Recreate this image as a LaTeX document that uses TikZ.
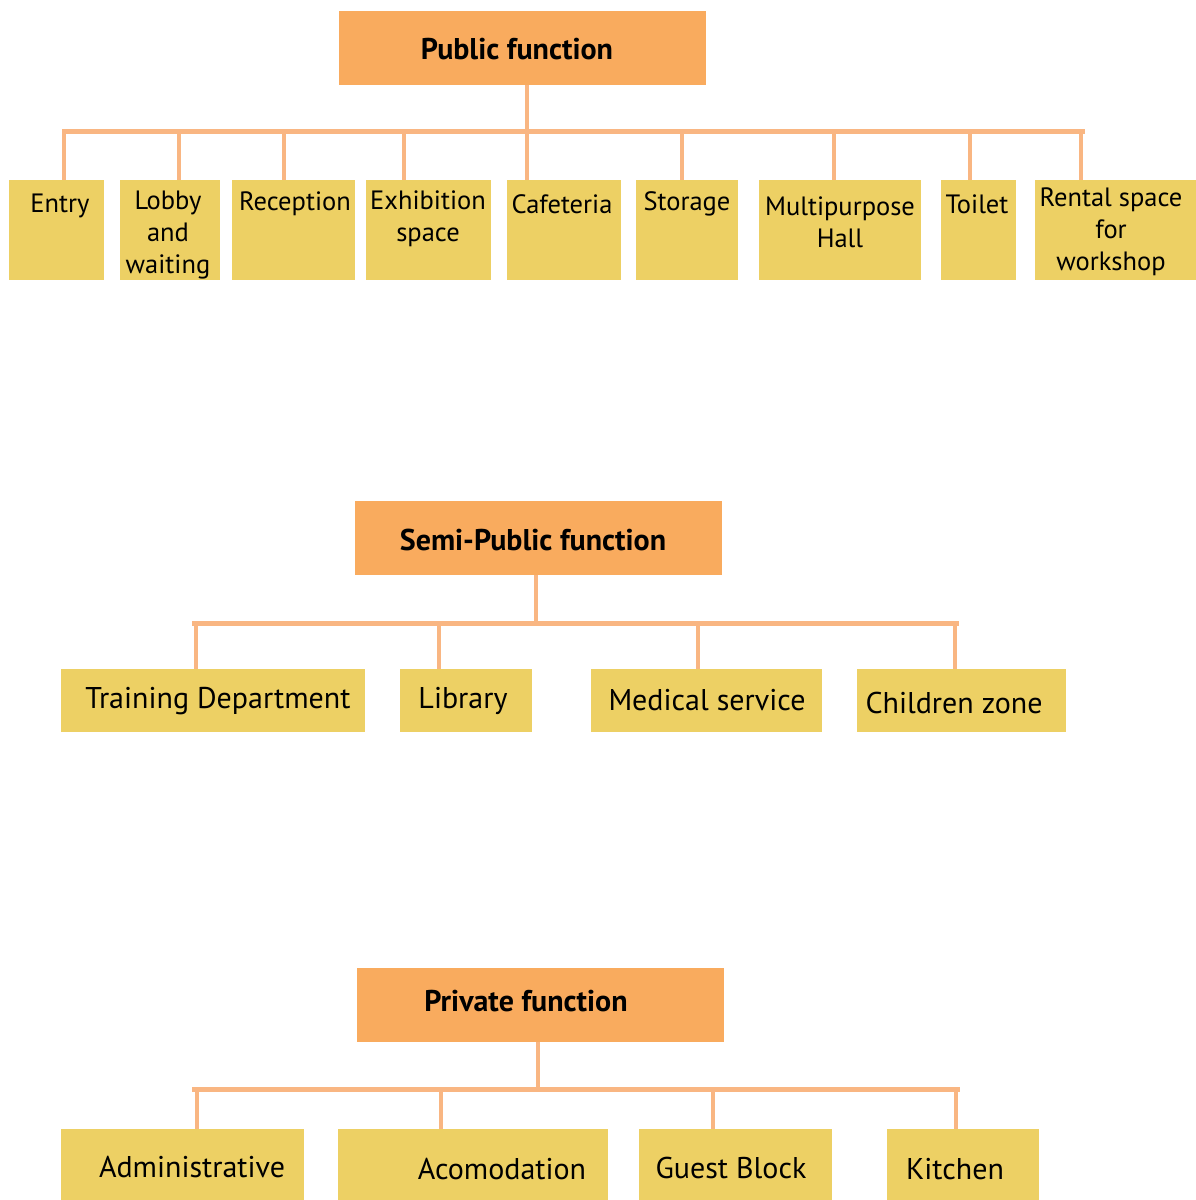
\documentclass[tikz,border=0pt]{standalone}
\usepackage{fontspec}
\setmainfont{PT Sans}
\definecolor{headfill}{RGB}{249,171,94}
\definecolor{leaffill}{RGB}{237,208,100}
\definecolor{linkcol}{RGB}{249,182,130}
\begin{document}
\begin{tikzpicture}[x=1pt,y=-1pt,
  head/.style={rectangle,fill=headfill,draw=none,minimum width=367,minimum height=74,inner sep=0},
  leaf/.style={rectangle,fill=leaffill,draw=none,inner sep=0},
  headtxt/.style={font=\fontsize{30}{34}\selectfont\bfseries,text=black,inner sep=0},
  smalltxt/.style={font=\fontsize{26.5}{32}\selectfont,align=center,text=black,inner sep=0},
  bigtxt/.style={font=\fontsize{30}{34}\selectfont,text=black,inner sep=0},
  bar/.style={draw=linkcol,line width=5},
  drop/.style={draw=linkcol,line width=4}]
\useasboundingbox (0,0) rectangle (1196,1200);
\fill[white] (0,0) rectangle (1196,1200);

% ---------- Public function ----------
\node[head] (pub) at (522.5,48) {};
\node[headtxt] (pubT) at (517,49) {Public function};

\node[leaf,minimum width=95,minimum height=100]  (entry) at (56.5,230) {};
\node[leaf,minimum width=100,minimum height=100] (lobby) at (170,230) {};
\node[leaf,minimum width=123,minimum height=100] (recep) at (293,230) {};
\node[leaf,minimum width=125,minimum height=100] (exhib) at (428.5,230) {};
\node[leaf,minimum width=114,minimum height=100] (cafe)  at (564,230) {};
\node[leaf,minimum width=102,minimum height=100] (stor)  at (687,230) {};
\node[leaf,minimum width=162,minimum height=100] (multi) at (840,230) {};
\node[leaf,minimum width=75,minimum height=100]  (toil)  at (978.5,230) {};
\node[leaf,minimum width=161,minimum height=100] (rent)  at (1115.5,230) {};

\node[smalltxt] at (60,206)   {Entry};
\node[smalltxt] at (168,235)  {Lobby\\and\\waiting};
\node[smalltxt] at (295,204)  {Reception};
\node[smalltxt] at (428,219)  {Exhibition\\space};
\node[smalltxt] at (562,204)  {Cafeteria};
\node[smalltxt] at (687,204)  {Storage};
\node[smalltxt] at (840,222)  {Multipurpose\\Hall};
\node[smalltxt] at (977,204)  {Toilet};
\node[smalltxt] at (1111,232) {Rental space\\for\\workshop};

\coordinate (pubL) at (62,131);
\coordinate (pubR) at (1085,131);
\coordinate (pubJ) at (527,131);
\draw[bar] (pubL) -- (pubR);
\draw[drop] (pubJ |- pub.south) -- (pubJ);
\foreach \n/\x in {entry/64,lobby/179,recep/284,exhib/404,cafe/527,stor/682,multi/834,toil/970,rent/1081}{
  \coordinate (j-\n) at (\x,131);
  \draw[drop] (j-\n) -- (j-\n |- \n.north);
}

% ---------- Semi-Public function ----------
\node[head] (semi) at (538.5,538) {};
\node[headtxt] (semiT) at (533,540) {Semi-Public function};

\node[leaf,minimum width=304,minimum height=63] (train) at (212.5,700.5) {};
\node[leaf,minimum width=132,minimum height=63] (libr)  at (466,700.5) {};
\node[leaf,minimum width=231,minimum height=63] (medi)  at (706,700.5) {};
\node[leaf,minimum width=209,minimum height=63] (child) at (961.5,700.5) {};

\node[bigtxt] at (218,701) {Training Department};
\node[bigtxt] at (463,701) {Library};
\node[bigtxt] at (707,700) {Medical service};
\node[bigtxt] at (954,703) {Children zone};

\coordinate (semiL) at (192,623);
\coordinate (semiR) at (959,623);
\coordinate (semiJ) at (536,623);
\draw[bar] (semiL) -- (semiR);
\draw[drop] (semiJ |- semi.south) -- (semiJ);
\foreach \n/\x in {train/196,libr/439,medi/698,child/955}{
  \coordinate (j-\n) at (\x,623);
  \draw[drop] (j-\n) -- (j-\n |- \n.north);
}

% ---------- Private function ----------
\node[head] (priv) at (540.5,1004.5) {};
\node[headtxt] (privT) at (526,1001) {Private function};

\node[leaf,minimum width=243,minimum height=72] (admin) at (182.5,1165) {};
\node[leaf,minimum width=270,minimum height=72] (acom)  at (473,1165) {};
\node[leaf,minimum width=193,minimum height=72] (guest) at (735.5,1165) {};
\node[leaf,minimum width=152,minimum height=72] (kitch) at (963,1165) {};

\node[bigtxt] at (192,1167) {Administrative};
\node[bigtxt] at (502,1169) {Acomodation};
\node[bigtxt] at (731,1168) {Guest Block};
\node[bigtxt] at (955,1169) {Kitchen};

\coordinate (privL) at (192,1089);
\coordinate (privR) at (960,1089);
\coordinate (privJ) at (538,1089);
\draw[bar] (privL) -- (privR);
\draw[drop] (privJ |- priv.south) -- (privJ);
\foreach \n/\x in {admin/197,acom/441,guest/713,kitch/956}{
  \coordinate (j-\n) at (\x,1089);
  \draw[drop] (j-\n) -- (j-\n |- \n.north);
}
\end{tikzpicture}
\end{document}
